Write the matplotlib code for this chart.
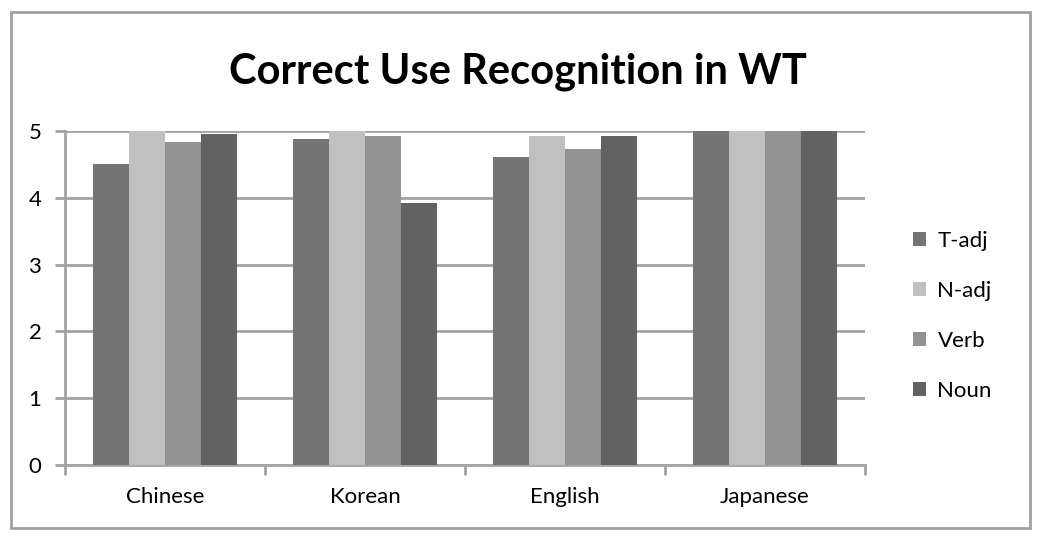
import numpy as np
import matplotlib
matplotlib.use("Agg")
import matplotlib.pyplot as plt
from matplotlib.patches import Rectangle

categories = ["Chinese", "Korean", "English", "Japanese"]
series_names = ["T-adj", "N-adj", "Verb", "Noun"]
t_adj = [4.50, 4.88, 4.61, 5.0]
n_adj = [5.0, 5.0, 4.93, 5.0]
verb = [4.84, 4.93, 4.73, 5.0]
noun = [4.96, 3.92, 4.93, 5.0]
colors = ["#747474", "#c0c0c0", "#939393", "#626262"]

plt.rcParams["font.family"] = ["Lato", "DejaVu Sans"]

fig = plt.figure(figsize=(10.43, 5.45), dpi=100)
ax = fig.add_axes([65 / 1043, 1 - 465 / 545, 800 / 1043, 334 / 545])

x = np.arange(len(categories))
w = 0.18
for i, (vals, name) in enumerate(zip([t_adj, n_adj, verb, noun], series_names)):
    ax.bar(x + (i - 1.5) * w, vals, w, color=colors[i], label=name, zorder=3)

ax.set_xlim(-0.5, 3.5)
ax.set_ylim(0, 5)
ax.set_yticks(range(6))
ax.yaxis.grid(True, color="#a3a3a3", linewidth=2, zorder=0)
ax.set_xticks(np.arange(-0.5, 4, 1))
ax.set_xticklabels([])
ax.set_xticks(x, minor=True)
ax.set_xticklabels(categories, minor=True, fontsize=16)
ax.tick_params(axis="x", which="minor", length=0, pad=16)
ax.tick_params(axis="x", which="major", length=7, width=2, color="#a3a3a3")
ax.tick_params(axis="y", length=7, width=2, color="#a3a3a3", labelsize=16, pad=10)
for s in ["top", "right"]:
    ax.spines[s].set_visible(False)
for s in ["left", "bottom"]:
    ax.spines[s].set_color("#a3a3a3")
    ax.spines[s].set_linewidth(2)

fig.text(518 / 1043, 1 - 72 / 545, "Correct Use Recognition in WT", ha="center", va="center",
         fontsize=30, fontweight="bold")

ax.legend(loc="center left", bbox_to_anchor=(1.035, 0.446), frameon=False, fontsize=16,
          handlelength=0.6, handleheight=0.6, handletextpad=0.5, labelspacing=1.35)

fig.patches.append(Rectangle((11 / 1043, 1 - 528 / 545), 1019 / 1043, 516 / 545,
                             transform=fig.transFigure, fill=False, edgecolor="#a0a0a0",
                             linewidth=2))

fig.savefig("out.png", dpi=100)
